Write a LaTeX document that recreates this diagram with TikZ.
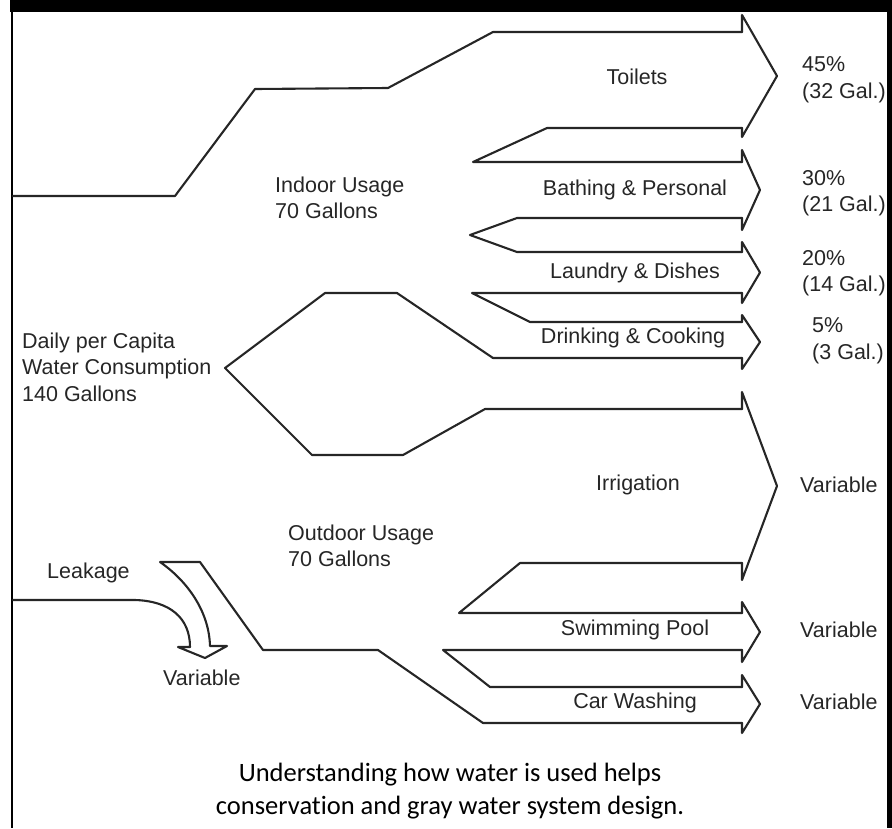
\documentclass[tikz,border=0pt]{standalone}
\usepackage{fontspec}
\setmainfont{Liberation Sans}
\newfontfamily\capfont[Ligatures=NoCommon]{Carlito}
\begin{document}
\begin{tikzpicture}[x=1pt,y=-1pt,line join=round,line cap=round,
    flow/.style={line width=2.1pt,draw=black!85},
    lab/.style={font=\fontsize{21.5}{26.5}\selectfont,inner sep=0pt,text=black!85},
    side/.style={lab,anchor=west,align=left}]
    \useasboundingbox (0,0) rectangle (892,828);
    % frame
    \fill (10,0) rectangle (892,12);
    \fill (11,12) rectangle (13,828);
    \fill (887,12) rectangle (892,828);
    % outer edges
    \draw[flow] (13,196)--(175,196)--(255,89)--(388,88)--(493,32)--(742,32);
    \draw[flow] (13,600)--(135,600) .. controls (170,601) and (190,618) .. (190,647)
        --(178,647)--(205,658)--(227,646)--(210,646)
        .. controls (209,610) and (186,580) .. (160,562)--(200,562)
        --(263,650)--(378,650)--(483,723)--(742,723);
    % indoor / outdoor split
    \draw[flow] (742,358)--(493,358)--(397,293)--(325,293)--(225,368)--(312,455)
        --(403,455)--(485,409)--(742,409);
    % gaps between the sub flows
    \draw[flow] (742,128)--(547,128)--(473,162)--(742,162);
    \draw[flow] (742,218)--(517,218)--(470,235)--(517,252)--(742,252);
    \draw[flow] (742,293)--(472,293)--(530,322)--(742,322);
    \draw[flow] (742,563)--(520,563)--(459,613)--(742,613);
    \draw[flow] (742,650)--(443,650)--(490,687)--(742,687);
    % heads
    \foreach \t/\b/\ht/\hb/\tip in {32/128/15/137/777,162/218/150/230/760,252/293/242/303/760,
        322/358/315/369/760,409/563/392/580/777,613/650/602/662/760,687/723/675/733/760}
    \draw[flow] (742,\t)--(742,\ht)--(\tip,{(\ht+\hb)/2})--(742,\hb)--(742,\b);
    % flow names
    \node[lab] (toilets) at (637,77) {Toilets};
    \node[lab] (bathing) at (635,190) {Bathing \& Personal};
    \node[lab] (laundry) at (635,273) {Laundry \& Dishes};
    \node[lab] (drinking) at (633,338) {Drinking \& Cooking};
    \node[lab] (irrig) at (638,485) {Irrigation};
    \node[lab] (pool) at (635,630) {Swimming Pool};
    \node[lab] (carwash) at (635,703) {Car Washing};
    % amounts
    \node[side] (p45) at (802,80) {45\%\\(32 Gal.)};
    \node[side] (p30) at (802,193) {30\%\\(21 Gal.)};
    \node[side] (p20) at (802,273) {20\%\\(14 Gal.)};
    \node[side] (p5) at (812,341) {5\%\\(3 Gal.)};
    \foreach \y/\n in {485/irr,630/pool,702/car}
    \node[side] (var\n) at (800,\y) {Variable};
    % left side
    \node[side] (indoor) at (275,198) {Indoor Usage\\70 Gallons};
    \node[side] (daily) at (22,367) {Daily per Capita\\Water Consumption\\140 Gallons};
    \node[side] (outdoor) at (288,546) {Outdoor Usage\\70 Gallons};
    \node[side] (leak) at (47,573) {Leakage};
    \node[side] (varleak) at (163,678) {Variable};
    % caption
    \node[font=\capfont\fontsize{26.5}{33}\selectfont,align=center,inner sep=0pt] (caption) at (450,791)
        {Understanding how water is used helps\\conservation and gray water system design.};
\end{tikzpicture}
\end{document}
